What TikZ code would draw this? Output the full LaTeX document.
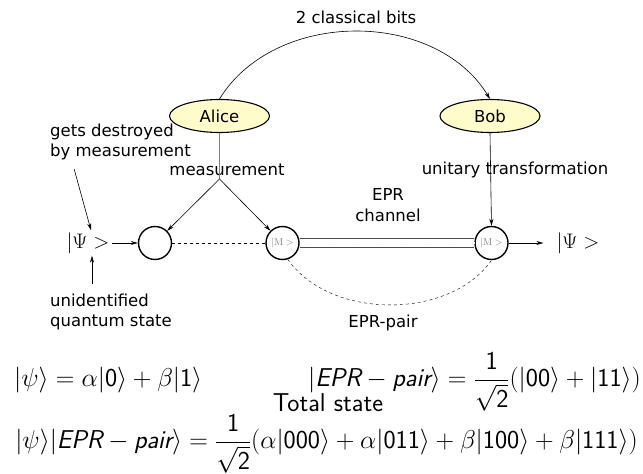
\documentclass[tikz,border=0pt]{standalone}
\usepackage{fix-cm}
\usepackage{amsmath}
\usepackage{fontspec}
\newfontfamily\labelfont{DejaVu Sans}
\usetikzlibrary{arrows.meta,shapes.geometric}

\newcommand{\sff}[1]{\textsf{#1}}

\begin{document}
\begin{tikzpicture}[x=1pt,y=1pt]

\def\lsize{\fontsize{16.5}{20}\selectfont}
\def\msize{\fontsize{25.8}{30}\selectfont}

\tikzset{lab/.style={font=\labelfont\lsize, inner sep=1pt},
agent/.style={ellipse, draw, line width=1.1pt, fill=yellow!20, minimum width=100pt, minimum height=33pt, font=\labelfont\lsize},
qbit/.style={circle, draw, line width=1.4pt, fill=white, minimum size=33pt, inner sep=0pt, text=gray, font=\fontsize{10}{12}\selectfont},
ket/.style={font=\fontsize{21}{25}\selectfont, inner sep=2pt},
formula/.style={font=\msize, inner sep=0pt},
arr/.style={-{Stealth[length=7pt,width=4pt]}, semithick}}

\useasboundingbox (0,0) rectangle (643,474);

% parties and classical channel
\node[agent] (alice) at (219.5,358) {Alice};
\node[agent] (bob) at (490,358) {Bob};
\node[lab] (bits) at (356,457) {2 classical bits};
\draw[arr] (alice.north) .. controls (275,465) and (435,465) .. (bob.north);

% qubits
\node[ket] (psiin) at (88,231) {$|\Psi >$};
\node[qbit] (c0) at (155,231) {};
\node[qbit] (m1) at (282.5,231) {$|\mathrm{M}>$};
\node[qbit] (m2) at (491.5,231) {$|\mathrm{M}>$};
\node[ket] (psiout) at (578,231) {$|\Psi >$};
\coordinate (split) at (219.5,295);

\node[lab] (meas) at (227,304) {measurement};
\node[lab] (unitary) at (515,304) {unitary transformation};
\node[lab, align=center] (chan) at (388,268.5) {EPR\\[1pt]channel};
\node[lab, align=left, anchor=west] (destroyed) at (49,332) {gets destroyed\\by measurement};
\node[lab, align=left, anchor=west] (unident) at (49,162) {unidentified\\quantum state};
\node[lab] (pair) at (383,151) {EPR-pair};

\draw[gray, line width=1.2pt] (alice.south) -- (split);
\draw[arr] (split) -- (c0);
\draw[arr] (split) -- (m1);
\draw[arr] (bob.south) -- (m2.north);
\draw[arr] (psiin.east) -- (c0.west);
\draw[arr, shorten >=11pt] (m2.east) -- (psiout.west);
\draw[arr, shorten <=8pt] ([xshift=23pt]destroyed.south west) -- ([xshift=3pt]psiin.north);
\draw[arr, shorten <=9pt] ([xshift=43pt]unident.north west) -- ([xshift=4pt]psiin.south);

\draw[dashed, thin] (c0.east) -- (m1.west);
\draw[gray!60!black, line width=1pt, double=white, double distance=8pt] (m1.east) -- (m2.west);
\draw[gray!60!black, dashed, line width=0.6pt, double=white, double distance=1.2pt] (m1.east) -- (m2.west);
\draw[dashed, thin] (m1.-72) .. controls (330,154) and (450,154) .. (m2.-90);

% states
\node[formula, anchor=base west] (fpsi) at (14,87) {$|\psi\rangle = \alpha|\sff{0}\rangle + \beta|\sff{1}\rangle$};
\node[formula, anchor=base east] (fepr) at (641,87) {$\displaystyle |\sff{\itshape EPR} - \sff{\itshape pair}\rangle = \frac{\sff{1}}{\sqrt{\sff{2}}}(|\sff{00}\rangle + |\sff{11}\rangle)$};
\node[formula, anchor=base] (total) at (328,62.5) {\sffamily Total state};
\node[formula, anchor=base] (ftot) at (326.5,25) {$\displaystyle |\psi\rangle|\sff{\itshape EPR} - \sff{\itshape pair}\rangle = \frac{\sff{1}}{\sqrt{\sff{2}}}(\alpha|\sff{000}\rangle + \alpha|\sff{011}\rangle + \beta|\sff{100}\rangle + \beta|\sff{111}\rangle)$};

\end{tikzpicture}
\end{document}
